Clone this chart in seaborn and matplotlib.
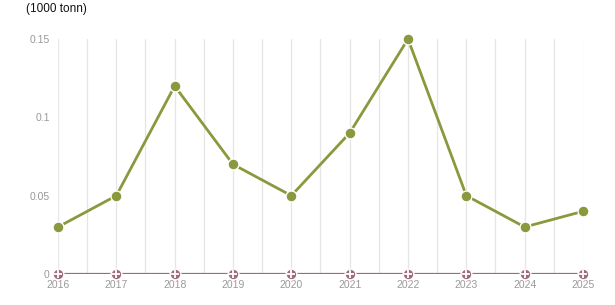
import matplotlib
matplotlib.use("Agg")
import matplotlib.pyplot as plt
import seaborn as sns
import pandas as pd

years = [2016, 2017, 2018, 2019, 2020, 2021, 2022, 2023, 2024, 2025]
series_a = [0.03, 0.05, 0.12, 0.07, 0.05, 0.09, 0.15, 0.05, 0.03, 0.04]
series_b = [0, 0, 0, 0, 0, 0, 0, 0, 0, 0]
yticks = [0, 0.05, 0.1, 0.15]
ytick_labels = ["0", "0.05", "0.1", "0.15"]

sns.set_theme(style="white")
plt.rcParams['font.family'] = ['Liberation Sans', 'DejaVu Sans']

df = pd.DataFrame({"year": years, "a": series_a, "b": series_b})

fig = plt.figure(figsize=(6.15, 3.05), dpi=100)
ax = fig.add_axes([58/615, 31/305, (583-58)/615, (274-39)/305])

green = "#8a993d"
pink = "#a06a7e"

# vertical grid at years and half years
for x in [y + d for y in years for d in (0, 0.5)]:
    if x <= 2025:
        ax.axvline(x, color="#e6e6e6", lw=0.9, zorder=0)

sns.lineplot(data=df, x="year", y="b", ax=ax, color=pink, lw=1.6, zorder=2)
ax.scatter(df["year"], df["b"], s=60, color=pink, edgecolor="white", linewidth=1.0, zorder=3, clip_on=False)
ax.scatter(df["year"], df["b"], s=30, marker="+", color="white", linewidth=1.3, zorder=4, clip_on=False)

sns.lineplot(data=df, x="year", y="a", ax=ax, color=green, lw=2, zorder=5)
ax.scatter(df["year"], df["a"], s=62, color=green, edgecolor="white", linewidth=1.0, zorder=6, clip_on=False)

ax.set_xlim(2016, 2025)
ax.set_ylim(0, 0.15)
ax.set_xticks(years)
ax.set_xticklabels([str(y) for y in years])
ax.set_yticks(yticks)
ax.set_yticklabels(ytick_labels)
ax.tick_params(axis="both", colors="#999999", labelsize=7.5, length=0, pad=4)
ax.tick_params(axis="y", length=4, width=0.8, color="#cccccc", pad=2)
ax.set_xlabel("")
ax.set_ylabel("")
for s in ax.spines.values():
    s.set_visible(False)

fig.text(26/615, 1 - 9/305, "(1000 tonn)", fontsize=8.5, color="#111111", va="center", ha="left")

fig.savefig("out.png", dpi=100)
